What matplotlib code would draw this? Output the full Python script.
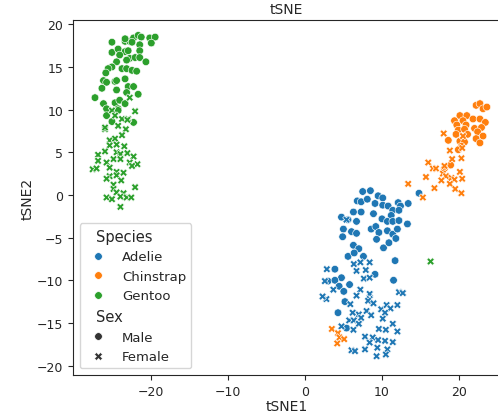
import numpy as np
import pandas as pd
import seaborn as sns
import matplotlib
matplotlib.use("Agg")
import matplotlib.pyplot as plt

# tSNE coordinates, per species / sex

gentoo_male_x = [-25.0, -23.3, -22.7, -22.2, -21.6, -21.2, -20.1, -19.4, -19.9, -21.4,
                 -23.3, -22.4, -25.0, -24.2, -23.3, -22.9, -21.4, -24.0, -22.7, -22.0,
                 -21.4, -20.6, -23.1, -24.4, -25.0, -25.5, -25.8, -23.7, -23.1, -22.4,
                 -21.8, -26.1, -25.7, -24.6, -23.3, -24.4, -26.3, -24.4, -22.9, -22.2,
                 -23.1, -21.6, -27.2, -26.1, -24.6, -24.0, -23.3, -25.7, -24.2, -25.7,
                 -22.2, -25.0, -24.2]
gentoo_male_y = [17.9, 18.0, 18.0, 18.4, 18.7, 18.5, 18.4, 18.5, 17.8, 17.6,
                 18.3, 17.9, 16.7, 17.1, 16.8, 16.9, 16.9, 16.4, 16.0, 16.1,
                 16.1, 15.6, 15.8, 15.6, 15.0, 14.8, 14.3, 14.8, 14.8, 14.6,
                 14.5, 13.4, 13.2, 13.3, 13.6, 13.4, 12.5, 12.3, 12.7, 12.7,
                 12.0, 11.8, 11.4, 10.7, 10.8, 11.1, 10.7, 10.1, 10.1, 9.3,
                 8.5, 8.6, 9.9]

gentoo_female_x = [-22.7, -25.0, -24.6, -22.0, -23.7, -22.9, -23.0, -25.9, -24.2, -23.2,
                   -23.7, -25.3, -24.6, -25.3, -24.4, -23.4, -25.9, -26.8, -26.8, -24.4,
                   -23.9, -23.0, -22.2, -24.8, -23.9, -25.7, -22.7, -21.7, -22.4, -25.3,
                   -27.5, -27.0, -24.4, -23.5, -25.3, -25.7, -24.4, -23.8, -24.8, -24.8,
                   -24.4, -23.5, -22.0, -25.7, -25.0, -23.9, -23.1, -22.5, -23.9, -25.9,
                   16.3]
gentoo_female_y = [11.4, 9.9, 9.3, 9.8, 8.9, 8.9, 8.8, 7.7, 8.1, 7.7,
                   7.0, 6.4, 6.6, 5.8, 5.9, 5.7, 5.1, 4.7, 4.0, 5.0,
                   4.8, 4.9, 4.5, 4.2, 4.2, 3.8, 3.8, 3.6, 3.4, 3.2,
                   3.0, 3.1, 2.7, 2.6, 2.2, 1.9, 2.3, 1.7, 1.2, 0.7,
                   0.3, 0.2, 0.9, -0.3, -0.5, -0.2, -0.3, -0.3, -1.4, 7.9,
                   -7.8]

chinstrap_male_x = [22.2, 22.7, 23.1, 23.6, 20.1, 21.0, 19.4, 20.5, 21.8, 22.7,
                    23.4, 19.7, 20.9, 22.0, 22.9, 19.9, 20.7, 19.6, 21.1, 22.4,
                    23.1, 18.6, 20.1, 20.7, 22.2, 22.7, 20.3, 19.9, 18.9, 18.1]
chinstrap_male_y = [10.5, 10.7, 10.1, 10.3, 9.3, 9.3, 8.7, 8.7, 8.9, 8.9,
                    8.5, 8.2, 8.2, 7.8, 7.9, 7.6, 7.7, 7.1, 7.1, 7.4,
                    6.9, 6.4, 6.3, 6.2, 6.6, 6.1, 5.7, 5.3, 3.5, 3.1]

chinstrap_female_x = [18.0, 20.5, 18.8, 20.4, 19.1, 20.3, 16.0, 16.6, 17.0, 15.7,
                      18.1, 17.9, 18.3, 19.0, 19.4, 20.4, 17.7, 18.8, 20.1, 16.8,
                      19.5, 20.3, 13.4, 15.3, 3.5, 4.3, 4.5, 5.1, 4.2]
chinstrap_female_y = [7.2, 6.9, 5.2, 5.5, 4.2, 4.3, 3.8, 3.1, 3.1, 2.1,
                      3.4, 2.5, 2.2, 2.0, 1.8, 1.9, 1.7, 1.3, 2.7, 0.8,
                      0.7, 0.2, 1.3, -0.3, -15.7, -16.2, -16.7, -16.9, -17.4]

adelie_male_x = [7.5, 8.5, 9.5, 10.1, 6.8, 7.3, 8.1, 9.1, 10.1, 10.8,
                 12.1, 13.4, 12.4, 11.4, 12.2, 6.3, 7.3, 8.9, 11.2, 4.75,
                 5.6, 6.7, 10.0, 10.7, 11.4, 12.2, 5.0, 6.05, 6.7, 8.6,
                 9.2, 9.6, 10.7, 11.4, 12.0, 13.3, 4.9, 9.3, 11.8, 6.3,
                 7.0, 10.2, 10.9, 5.6, 6.4, 7.6, 11.7, 3.9, 4.75, 3.0,
                 3.9, 4.45, 5.8, 5.05, 9.1, 11.5, 5.2, 4.3, 5.4, 14.8]
adelie_male_y = [0.4, 0.5, -0.1, -0.35, -0.7, -0.8, -0.5, -1.0, -1.2, -1.3,
                 -0.9, -1.0, -1.3, -1.8, -1.8, -2.0, -2.0, -2.2, -2.4, -2.6,
                 -2.9, -3.1, -2.8, -3.1, -3.1, -3.0, -4.0, -4.3, -4.5, -4.0,
                 -3.7, -4.4, -4.2, -4.6, -4.0, -3.4, -4.9, -5.2, -5.1, -5.9,
                 -6.3, -6.2, -5.6, -7.2, -6.8, -7.2, -7.7, -8.7, -9.7, -10.1,
                 -10.0, -10.7, -10.5, -11.3, -9.3, -10.0, -12.5, -13.8, -15.6, 0.2]

adelie_female_x = [5.4, 6.35, 7.2, 8.4, 6.7, 7.9, 7.65, 8.4, 2.6, 3.7,
                   2.8, 7.2, 6.7, 8.4, 8.4, 8.2, 8.9, 5.9, 9.9, 10.6,
                   11.1, 12.0, 12.2, 12.7, 10.4, 8.0, 7.0, 6.2, 5.75, 6.35,
                   7.3, 8.6, 10.1, 11.4, 7.0, 4.75, 6.3, 9.6, 10.5, 12.0,
                   7.8, 8.8, 9.5, 10.4, 11.4, 8.4, 9.4, 10.7, 6.05, 6.5,
                   7.8, 10.5, 9.3, 2.85, 2.3]
adelie_female_y = [-2.9, -8.1, -7.9, -7.9, -8.9, -8.8, -9.8, -9.7, -10.1, -11.1,
                   -12.2, -11.1, -11.8, -11.6, -12.2, -12.4, -12.7, -12.8, -13.4, -12.9,
                   -13.3, -12.9, -11.4, -11.5, -13.8, -13.6, -14.0, -13.8, -14.7, -14.7,
                   -14.4, -14.1, -14.5, -15.1, -15.1, -15.4, -15.8, -15.7, -15.8, -16.0,
                   -16.6, -16.7, -17.0, -17.1, -17.25, -17.3, -17.9, -18.1, -18.2, -18.3,
                   -18.1, -18.7, -18.9, -8.7, -11.9]

species_order = ["Adelie", "Chinstrap", "Gentoo"]
sex_order = ["Male", "Female"]

groups = [
    ("Adelie", "Male", adelie_male_x, adelie_male_y),
    ("Adelie", "Female", adelie_female_x, adelie_female_y),
    ("Chinstrap", "Male", chinstrap_male_x, chinstrap_male_y),
    ("Chinstrap", "Female", chinstrap_female_x, chinstrap_female_y),
    ("Gentoo", "Male", gentoo_male_x, gentoo_male_y),
    ("Gentoo", "Female", gentoo_female_x, gentoo_female_y),
]

frames = []
for sp, sx, xs, ys in groups:
    frames.append(pd.DataFrame({"tSNE1": xs, "tSNE2": ys, "Species": sp, "Sex": sx}))
df = pd.concat(frames, ignore_index=True)

sns.set_style("ticks")
plt.rcParams['font.family'] = ['DejaVu Sans']

fig = plt.figure(figsize=(4.98, 4.14), dpi=100)
ax = fig.add_axes([73 / 498, 38 / 414, 427 / 498, 355 / 414])

sns.scatterplot(data=df, x="tSNE1", y="tSNE2", hue="Species", style="Sex",
                hue_order=species_order, style_order=sex_order,
                s=30, ax=ax)

ax.set_xlim(-30.05, 25.3)
ax.set_ylim(-21.1, 20.5)
ax.set_xticks([-20, -10, 0, 10, 20])
ax.set_yticks([-20, -15, -10, -5, 0, 5, 10, 15, 20])
ax.tick_params(labelsize=9)
ax.set_xlabel("tSNE1", fontsize=10, labelpad=1)
ax.set_ylabel("tSNE2", fontsize=10, labelpad=2)
ax.set_title("tSNE", fontsize=10, pad=5)

leg = ax.legend(loc="lower left", fontsize=9.5, borderaxespad=0.5)
# subtitles sit to the left, in the handle column
for t in leg.get_texts():
    if t.get_text() in ("Species", "Sex"):
        t.set_fontsize(10.5)
        t.set_position((-26, 0))

fig.savefig("out.png", dpi=100)
